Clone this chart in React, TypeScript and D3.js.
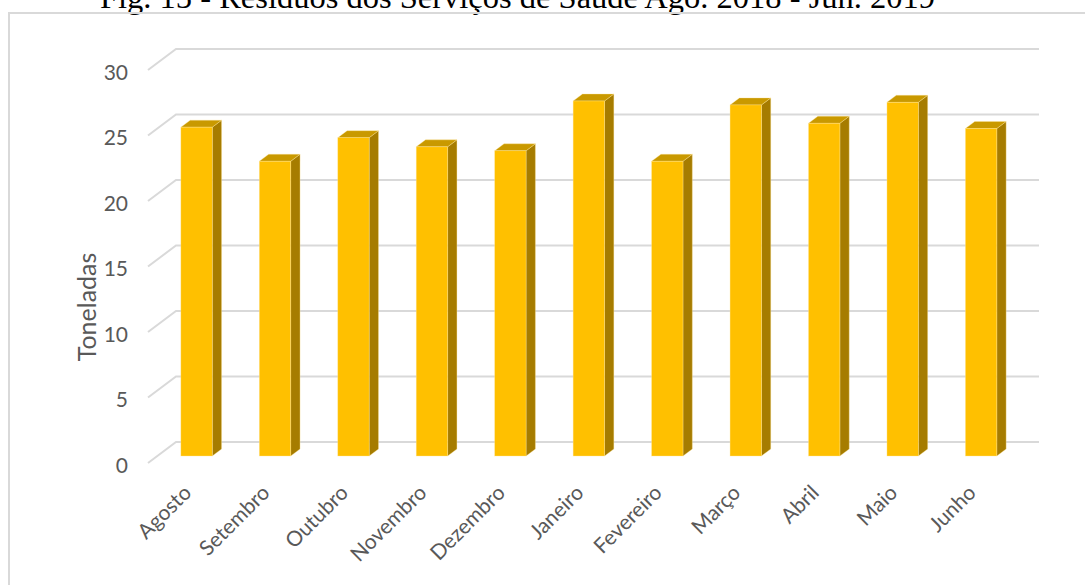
import React from "react";
import * as d3 from "d3";

const title = "Fig. 15 - Resíduos dos Serviços de Saúde Ago. 2018 - Jun. 2019";
const categories = ["Agosto", "Setembro", "Outubro", "Novembro", "Dezembro", "Janeiro", "Fevereiro", "Março", "Abril", "Maio", "Junho"];
const values = [25.1, 22.5, 24.3, 23.6, 23.3, 27.1, 22.5, 26.8, 25.4, 27.0, 25.0];
const yTicks = [0, 5, 10, 15, 20, 25, 30];
const yLabel = "Toneladas";

const W = 1085;
const H = 585;
const floorLeft = 148;
const floorRight = 1011;
const depthX = 28;
const depthY = 21;
const yFront0 = 463;
const yFront30 = 70;

export default function App() {
  const x = d3.scaleBand<string>().domain(categories).range([floorLeft, floorRight]).paddingInner(0.6).paddingOuter(0.3);
  const y = d3.scaleLinear().domain([0, 30]).range([yFront0, yFront30]);
  const bw = x.bandwidth();
  const ddx = depthX / 3;
  const ddy = depthY / 3;
  const font = "Lato, 'Open Sans', sans-serif";
  const grey = "#595959";

  return (
    <svg width={W} height={H} style={{ position: "absolute", left: 0, top: 0, background: "#fff" }}>
      <text x={100} y={8} fontFamily="'Liberation Serif', 'Times New Roman', serif" fontSize={32.5} fill="#000">{title}</text>
      <path d={`M9,${H + 5} L9,13 L${W + 5},13`} fill="none" stroke="#d9d9d9" strokeWidth={2} />
      {yTicks.map((t) => {
        const yf = y(t);
        return (
          <g key={t}>
            <path d={`M${floorLeft},${yf} L${floorLeft + depthX},${yf - depthY} L1039,${yf - depthY}`} fill="none" stroke="#d9d9d9" strokeWidth={2} />
            <text x={128} y={yf + 1} textAnchor="end" dominantBaseline="central" fontFamily={font} fontSize={21} fill={grey}>{t}</text>
          </g>
        );
      })}
      {categories.map((c, i) => {
        const xf = (x(c) as number) + ddx;
        const yb = y(0) - ddy;
        const yt = y(values[i]) - ddy;
        return (
          <g key={c}>
            <polygon points={`${xf + bw},${yb} ${xf + bw + ddx},${yb - ddy} ${xf + bw + ddx},${yt - ddy} ${xf + bw},${yt}`} fill="#A67C00" stroke="#FFE699" strokeWidth={0.6} strokeOpacity={0.6} />
            <polygon points={`${xf},${yt} ${xf + ddx},${yt - ddy} ${xf + bw + ddx},${yt - ddy} ${xf + bw},${yt}`} fill="#C99900" stroke="#FFE699" strokeWidth={0.6} strokeOpacity={0.6} />
            <rect x={xf} y={yt} width={bw} height={yb - yt} fill="#FFC000" stroke="#FFE699" strokeWidth={0.6} strokeOpacity={0.6} />
          </g>
        );
      })}
      {categories.map((c) => {
        const cx = (x(c) as number) + ddx + bw / 2 - 4;
        return (
          <text key={c} transform={`translate(${cx},${494}) rotate(-45)`} textAnchor="end" fontFamily={font} fontSize={21} fill={grey}>{c}</text>
        );
      })}
      <text transform={`translate(96,307) rotate(-90)`} textAnchor="middle" fontFamily={font} fontSize={25} fill={grey}>{yLabel}</text>
    </svg>
  );
}
